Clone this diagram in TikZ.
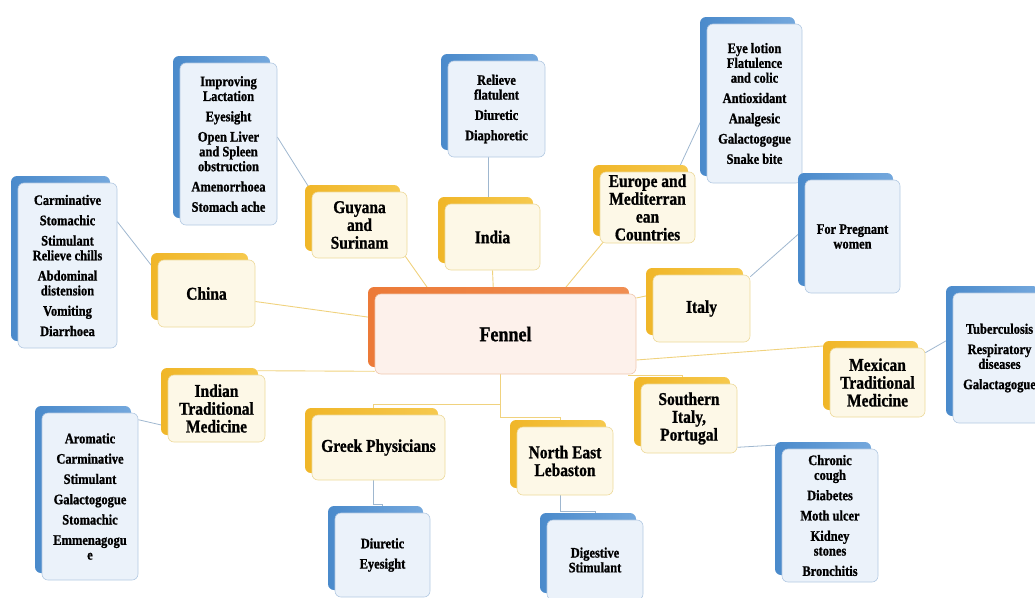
\documentclass[tikz,border=0pt]{standalone}
\usepackage{fontspec}
\setmainfont{Liberation Serif}[FakeStretch=0.86,BoldFeatures={FakeBold=1}]
\usetikzlibrary{shadows,backgrounds,calc}
\definecolor{ydark}{HTML}{F0B628}
\definecolor{ylite}{HTML}{F6C94E}
\definecolor{yfill}{HTML}{FDF8E7}
\definecolor{ydraw}{HTML}{EDD99A}
\definecolor{bdark}{HTML}{4A8ACB}
\definecolor{blite}{HTML}{74A8DD}
\definecolor{bfill}{HTML}{EBF2FA}
\definecolor{bdraw}{HTML}{B3C9E2}
\definecolor{odark}{HTML}{EC7A38}
\definecolor{olite}{HTML}{F08E52}
\definecolor{ofill}{HTML}{FDF1EB}
\definecolor{odraw}{HTML}{EFC7AE}
\definecolor{yline}{HTML}{F0D27E}
\definecolor{bline}{HTML}{9FB7CF}
\newcommand\Nsep{\\[5.5pt]}
\begin{document}
\begin{tikzpicture}[x=1pt,y=-1pt,
  box/.style={rounded corners=6pt, inner sep=1pt, align=center, line width=0.6pt, text=black},
  ybox/.style={box, draw=ydraw, fill=yfill,
    general shadow={left color=ydark, right color=ylite, shadow xshift=-7pt, shadow yshift=7pt},
    font=\bfseries\fontsize{18}{17.8}\selectfont},
  bbox/.style={box, draw=bdraw, fill=bfill,
    general shadow={left color=bdark, right color=blite, shadow xshift=-7pt, shadow yshift=7pt},
    font=\bfseries\fontsize{14.5}{14.8}\selectfont},
  obox/.style={box, draw=odraw, fill=ofill,
    general shadow={left color=odark, right color=olite, shadow xshift=-7pt, shadow yshift=7pt},
    font=\bfseries\fontsize{21}{23}\selectfont},
  yconn/.style={draw=yline, line width=0.9pt},
  bconn/.style={draw=bline, line width=0.8pt}]
\useasboundingbox (0,0) rectangle (1035,597);

% central
\node[obox, minimum width=261pt, minimum height=80pt] (fen) at (505.5,334) {Fennel};

% countries
\node[ybox, minimum width=97pt, minimum height=67pt] (chi) at (206.5,293.5) {China};
\node[ybox, minimum width=95pt, minimum height=66pt] (guy) at (359.5,225) {Guyana\\and\\Surinam};
\node[ybox, minimum width=95pt, minimum height=66pt] (ind) at (492.5,237) {India};
\node[ybox, minimum width=95pt, minimum height=71pt] (eu) at (647.5,207.5) {Europe and\\Mediterran\\ean\\Countries};
\node[ybox, minimum width=97pt, minimum height=67pt] (ita) at (701.5,308.5) {Italy};
\node[ybox, minimum width=95pt, minimum height=69pt] (mex) at (877.5,382.5) {Mexican\\Traditional\\Medicine};
\node[ybox, minimum width=96pt, minimum height=69pt] (so) at (689,418.5) {Southern\\Italy,\\Portugal};
\node[ybox, minimum width=96pt, minimum height=68pt] (ne) at (565,461) {North East\\Lebaston};
\node[ybox, minimum width=133pt, minimum height=65pt] (gre) at (378.5,447.5) {Greek Physicians};
\node[ybox, minimum width=97pt, minimum height=67pt] (itm) at (216.5,408.5) {Indian\\Traditional\\Medicine};

% lists
\node[bbox, minimum width=99pt, minimum height=165pt] (chl) at (67.5,265.5)
  {Carminative\Nsep Stomachic\Nsep Stimulant\\Relieve chills\Nsep Abdominal\\distension\Nsep Vomiting\Nsep Diarrhoea};
\node[bbox, minimum width=97pt, minimum height=162pt] (gul) at (228.5,144)
  {Improving\\Lactation\Nsep Eyesight\Nsep Open Liver\\and Spleen\\obstruction\Nsep Amenorrhoea\Nsep Stomach ache};
\node[bbox, minimum width=97pt, minimum height=96pt] (inl) at (496.5,109)
  {Relieve\\flatulent\Nsep Diuretic\Nsep Diaphoretic};
\node[bbox, minimum width=95pt, minimum height=159pt] (eul) at (754.5,103.5)
  {Eye lotion\\Flatulence\\and colic\Nsep Antioxidant\Nsep Analgesic\Nsep Galactogogue\Nsep Snake bite};
\node[bbox, minimum width=95pt, minimum height=113pt] (pw) at (852.5,236.5) {For Pregnant\\women};
\node[bbox, minimum width=93pt, minimum height=130pt] (mxl) at (999.5,358)
  {Tuberculosis\Nsep Respiratory\\diseases\Nsep Galactagogue};
\node[bbox, minimum width=96pt, minimum height=133pt] (sol) at (830,515.5)
  {Chronic\\cough\Nsep Diabetes\Nsep Moth ulcer\Nsep Kidney\\stones\Nsep Bronchitis};
\node[bbox, minimum width=96pt, minimum height=80pt] (dig) at (595,560) {Digestive\\Stimulant};
\node[bbox, minimum width=95pt, minimum height=84pt] (dey) at (382.5,555) {Diuretic\Nsep Eyesight};
\node[bbox, minimum width=96pt, minimum height=167pt] (inl2) at (90,496.5)
  {Aromatic\Nsep Carminative\Nsep Stimulant\Nsep Galactogogue\Nsep Stomachic\Nsep Emmenagogu\\e};

\begin{pgfonlayer}{background}
% centre to countries
\draw[yconn] ($(chi.east)+(0,8)$) -- ($(fen.west)+(0,-16)$);
\draw[yconn] ($(guy.south east)+(-2,-2)$) -- ($(fen.north west)+(57,0)$);
\draw[yconn] ($(ind.south)+(0,0)$) -- ($(fen.north)+(-12,0)$);
\draw[yconn] ($(eu.south west)+(5,-3)$) -- ($(fen.north)+(55,0)$);
\draw[yconn] ($(ita.west)+(0,-14)$) -- ($(fen.east)+(0,-36)$);
\draw[yconn] ($(mex.west)+(0,-37)$) -- ($(fen.east)+(0,26)$);
\draw[yconn] ($(fen.south east)+(-8,1)$) -| ($(so.north)+(-7,0)$);
\draw[yconn] ($(itm.north east)+(-8,-4)$) -- ($(fen.south west)+(0,-3)$);
\draw[yconn] ($(fen.south)+(-5,0)$) -- ++(0,30) -| ($(gre.north)+(-5,0)$);
\draw[yconn] ($(fen.south)+(-5,0)$) -- ++(0,43) -| ($(ne.north)+(-5,0)$);
% countries to lists
\draw[bconn] ($(chl.north east)+(0,39)$) -- ($(chi.west)+(0,-20)$);
\draw[bconn] ($(gul.east)+(0,-7)$) -- (guy.north west);
\draw[bconn] ($(ind.north)+(-4,0)$) -- ($(inl.south)+(-8,0)$);
\draw[bconn] ($(eu.north east)+(-18,0)$) -- ($(eul.west)+(0,5)$);
\draw[bconn] ($(ita.north east)+(0,2)$) -- ($(pw.west)+(0,-8)$);
\draw[bconn] ($(mex.north east)+(0,5)$) -- ($(mxl.west)+(0,-21)$);
\draw[bconn] ($(so.south east)+(0,-6)$) -- ($(sol.north west)+(0,-4)$);
\draw[bconn] ($(gre.south)+(-5,0)$) -- ++(0,24) -| (dey.north);
\draw[bconn] ($(ne.south)+(-5,0)$) -- ++(0,16) -| (dig.north);
\draw[bconn] ($(inl2.north east)+(0,7)$) -- ($(itm.west)+(0,18)$);
\end{pgfonlayer}
\end{tikzpicture}
\end{document}
